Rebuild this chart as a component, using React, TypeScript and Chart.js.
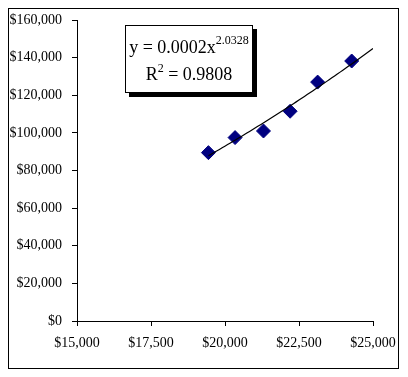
import React, { useEffect, useRef } from 'react';
import { Chart, registerables } from 'chart.js';

Chart.register(...registerables);

// Data
const incomeX = [19440, 20340, 21300, 22200, 23130, 24280];
const priceY = [89500, 97500, 101000, 111500, 127000, 138200];
const xTickValues = [15000, 17500, 20000, 22500, 25000];
const yTickValues = [0, 20000, 40000, 60000, 80000, 100000, 120000, 140000, 160000];
const trendEndX = 25000;
const equationMain = 'y = 0.0002x';
const equationExp = '2.0328';
const r2Value = '0.9808';

const SERIF = "'Liberation Serif', 'Times New Roman', Times, serif";

function powerFit(xs: number[], ys: number[]) {
  const n = xs.length;
  const lx = xs.map(Math.log);
  const ly = ys.map(Math.log);
  const mx = lx.reduce((a, b) => a + b, 0) / n;
  const my = ly.reduce((a, b) => a + b, 0) / n;
  let sxy = 0, sxx = 0;
  for (let i = 0; i < n; i++) {
    sxy += (lx[i] - mx) * (ly[i] - my);
    sxx += (lx[i] - mx) * (lx[i] - mx);
  }
  const b = sxy / sxx;
  const a = Math.exp(my - b * mx);
  return { a, b };
}

const fmt = (v: number) => '$' + Math.round(v).toLocaleString('en-US');

export default function App() {
  const ref = useRef<HTMLCanvasElement | null>(null);

  useEffect(() => {
    if (!ref.current) return;
    const { a, b } = powerFit(incomeX, priceY);
    const x0 = Math.min(...incomeX);
    const trend: { x: number; y: number }[] = [];
    const steps = 60;
    for (let i = 0; i <= steps; i++) {
      const x = x0 + ((trendEndX - x0) * i) / steps;
      trend.push({ x, y: a * Math.pow(x, b) });
    }
    const points = incomeX.map((x, i) => ({ x, y: priceY[i] }));

    const chart = new Chart(ref.current, {
      type: 'scatter',
      data: {
        datasets: [
          {
            label: 'Trend',
            data: trend,
            showLine: true,
            borderColor: '#000000',
            borderWidth: 1.2,
            pointRadius: 0,
            fill: false,
          },
          {
            label: 'Data',
            data: points,
            pointStyle: 'rectRot',
            pointRadius: 7,
            backgroundColor: '#000080',
            borderColor: '#000080',
            borderWidth: 1,
          },
        ],
      },
      options: {
        responsive: false,
        animation: false,
        layout: { padding: { left: 0, right: 25, top: 11, bottom: 0 } },
        plugins: {
          legend: { display: false },
          tooltip: { enabled: false },
        },
        scales: {
          x: {
            type: 'linear',
            min: 15000,
            max: 25000,
            afterBuildTicks: (scale: any) => {
              scale.ticks = xTickValues.map((v) => ({ value: v }));
            },
            afterFit: (scale: any) => {
              scale.height = 47;
              scale.paddingRight = 0;
              scale.paddingLeft = 0;
            },
            grid: {
              drawOnChartArea: false,
              drawTicks: true,
              tickLength: 5,
              color: '#000000',
            },
            border: { display: true, color: '#000000', width: 1 },
            ticks: {
              callback: (v: any) => fmt(Number(v)),
              font: { family: SERIF, size: 14 },
              color: '#000000',
              padding: 9,
              maxRotation: 0,
              autoSkip: false,
            },
          },
          y: {
            type: 'linear',
            min: 0,
            max: 160000,
            afterBuildTicks: (scale: any) => {
              scale.ticks = yTickValues.map((v) => ({ value: v }));
            },
            afterFit: (scale: any) => {
              scale.width = 68;
              scale.paddingTop = 0;
              scale.paddingBottom = 0;
            },
            grid: {
              drawOnChartArea: false,
              drawTicks: true,
              tickLength: 5,
              color: '#000000',
            },
            border: { display: true, color: '#000000', width: 1 },
            ticks: {
              callback: (v: any) => fmt(Number(v)),
              font: { family: SERIF, size: 14 },
              color: '#000000',
              padding: 10,
              autoSkip: false,
            },
          },
        },
      },
    });
    return () => chart.destroy();
  }, []);

  return (
    <div
      style={{
        position: 'relative',
        width: 391,
        height: 361,
        border: '1px solid #000',
        boxSizing: 'border-box',
        background: '#fff',
      }}
    >
      <canvas
        ref={ref}
        width={389}
        height={359}
        style={{ position: 'absolute', left: 0, top: 0, width: 389, height: 359 }}
      />
      <div
        style={{
          position: 'absolute',
          left: 116,
          top: 16,
          width: 128,
          height: 68,
          border: '1px solid #000',
          boxSizing: 'border-box',
          background: '#fff',
          boxShadow: '4px 4px 0 #000',
          fontFamily: SERIF,
          fontSize: 18,
          color: '#000',
          textAlign: 'center',
          lineHeight: '27px',
          paddingTop: 8,
          whiteSpace: 'nowrap',
        }}
      >
        <div>
          {equationMain}
          <sup style={{ fontSize: 12, verticalAlign: 'top', position: 'relative', top: -7 }}>{equationExp}</sup>
        </div>
        <div>
          R<sup style={{ fontSize: 12, verticalAlign: 'top', position: 'relative', top: -6 }}>2</sup> = {r2Value}
        </div>
      </div>
    </div>
  );
}
